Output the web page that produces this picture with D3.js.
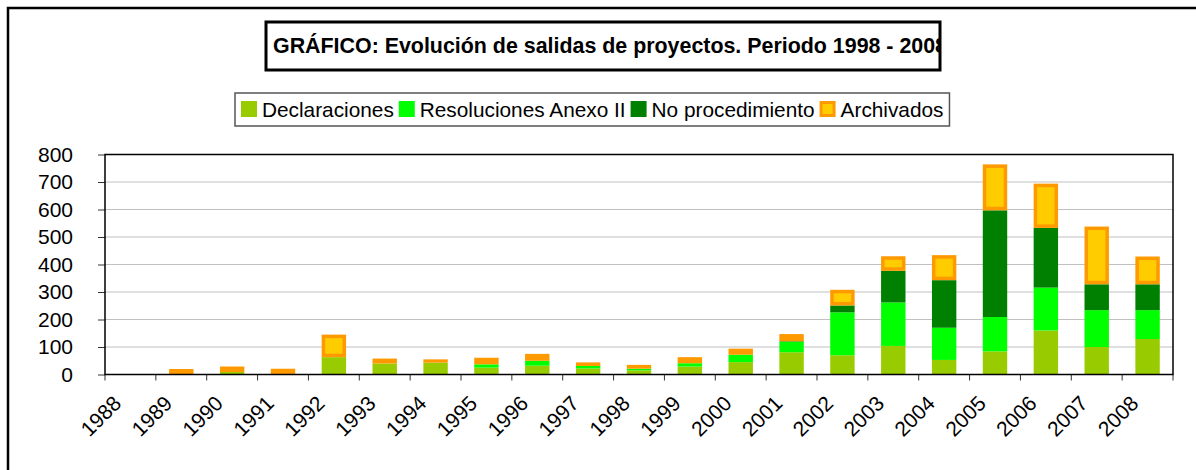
<!DOCTYPE html>
<html>
<head>
<meta charset="utf-8">
<script src="https://cdn.jsdelivr.net/npm/d3@7"></script>
<style>
  body { margin: 0; background: #fff; }
  svg { display: block; font-family: "Liberation Sans", Arial, sans-serif; }
</style>
</head>
<body>
<svg id="chart"></svg>
<script>
// Data
const years = ['1988', '1989', '1990', '1991', '1992', '1993', '1994', '1995', '1996', '1997', '1998',
  '1999', '2000', '2001', '2002', '2003', '2004', '2005', '2006', '2007', '2008'];
const declaraciones   = [0, 0, 9, 2, 63, 40, 43, 25, 32, 22, 15, 29, 45, 81, 70, 104, 53, 84, 160, 100, 129];
const resoluciones    = [0, 0, 0, 0, 0, 0, 0, 12, 18, 9, 6, 12, 27, 38, 156, 158, 117, 125, 156, 134, 105];
const noProcedimiento = [0, 0, 0, 0, 0, 0, 0, 0, 0, 0, 0, 0, 0, 2, 25, 115, 173, 388, 217, 94, 94];
const archivados      = [0, 20, 20, 19, 82, 18, 12, 24, 25, 13, 14, 22, 22, 26, 57, 53, 91, 167, 161, 210, 101];
const yTicks = [0, 100, 200, 300, 400, 500, 600, 700, 800];

const seriesNames = ['Declaraciones', 'Resoluciones Anexo II', 'No procedimiento', 'Archivados'];
const seriesColors = ['#99CC00', '#00FF00', '#008000', '#FFCC00'];
const archStroke = '#FF9900';

const titleText = 'GRÁFICO: Evolución de salidas de proyectos. Periodo 1998 - 2008';

const W = 1196, H = 470;
const plot = {left: 105, top: 154.5, right: 1173, bottom: 374.5};

const svg = d3.select('#chart').attr('width', W).attr('height', H);

// outer frame (runs off the right and bottom of the picture)
svg.append('rect')
    .attr('x', 8).attr('y', 8)
    .attr('width', W + 20).attr('height', H + 20)
    .attr('fill', 'none')
    .attr('stroke', '#000')
    .attr('stroke-width', 2.5);

// title box, text clipped to the box
svg.append('clipPath').attr('id', 'titleClip')
  .append('rect').attr('x', 266).attr('y', 22).attr('width', 674).attr('height', 48);

svg.append('text')
    .attr('clip-path', 'url(#titleClip)')
    .attr('x', 273)
    .attr('y', 53)
    .style('font-size', '21.4px')
    .style('font-weight', 'bold')
    .text(titleText);

svg.append('rect')
    .attr('x', 266).attr('y', 22)
    .attr('width', 674).attr('height', 48)
    .attr('fill', 'none')
    .attr('stroke', '#000')
    .attr('stroke-width', 3);

// scales
const table = years.map((yr, i) => ({
  year: yr,
  'Declaraciones': declaraciones[i],
  'Resoluciones Anexo II': resoluciones[i],
  'No procedimiento': noProcedimiento[i],
  'Archivados': archivados[i]
}));

const x = d3.scaleBand()
    .domain(years)
    .range([plot.left, plot.right])
    .paddingInner(0.52)
    .paddingOuter(0.26);

const y = d3.scaleLinear()
    .domain([0, 800])
    .range([plot.bottom, plot.top]);

// gridlines
svg.append('g')
  .selectAll('line')
  .data(yTicks.filter(d => d > 0 && d < 800))
  .join('line')
    .attr('x1', plot.left).attr('x2', plot.right)
    .attr('y1', d => y(d)).attr('y2', d => y(d))
    .attr('stroke', '#c0c0c0')
    .attr('stroke-width', 1);

// stacked bars
const stacked = d3.stack().keys(seriesNames)(table);

stacked.forEach((layer, li) => {
  const g = svg.append('g').attr('class', 'series');
  if (layer.key !== 'Archivados') {
    g.selectAll('rect')
      .data(layer.filter(d => d[1] > d[0]))
      .join('rect')
        .attr('x', d => x(d.data.year))
        .attr('width', x.bandwidth())
        .attr('y', d => y(d[1]))
        .attr('height', d => y(d[0]) - y(d[1]))
        .attr('fill', seriesColors[li]);
  } else {
    const sw = 3.5;
    g.selectAll('rect')
      .data(layer.filter(d => d[1] > d[0]))
      .join('rect')
        .each(function(d) {
          const h = y(d[0]) - y(d[1]);
          const r = d3.select(this);
          if (h > 2.3 * sw) {
            r.attr('x', x(d.data.year) + sw / 2)
             .attr('width', x.bandwidth() - sw)
             .attr('y', y(d[1]) + sw / 2)
             .attr('height', h - sw)
             .attr('fill', seriesColors[li])
             .attr('stroke', archStroke)
             .attr('stroke-width', sw);
          } else {
            r.attr('x', x(d.data.year))
             .attr('width', x.bandwidth())
             .attr('y', y(d[1]))
             .attr('height', h)
             .attr('fill', archStroke);
          }
        });
  }
});

// y axis
const yAxis = d3.axisLeft(y)
    .tickValues(yTicks)
    .tickSize(7)
    .tickPadding(25)
    .tickSizeOuter(0);

const yAxisG = svg.append('g')
    .attr('class', 'axis y-axis')
    .attr('transform', `translate(${plot.left},0)`)
    .call(yAxis);
yAxisG.selectAll('text').style('font-size', '21px').attr('fill', '#000');
yAxisG.selectAll('line').attr('stroke', '#333');
yAxisG.select('.domain').remove();

// x axis: labels at band centres, ticks on band boundaries
const xAxis = d3.axisBottom(x).tickSize(0).tickPadding(0);
const xAxisG = svg.append('g')
    .attr('class', 'axis x-axis')
    .attr('transform', `translate(0,${plot.bottom})`)
    .call(xAxis);
xAxisG.select('.domain').remove();
xAxisG.selectAll('text')
    .style('font-size', '21px')
    .attr('fill', '#000')
    .attr('text-anchor', 'end')
    .attr('y', 0)
    .attr('dy', '0.35em')
    .attr('transform', 'translate(-13,25) rotate(-45)');

const bounds = years.map(d => x(d) - (x.step() - x.bandwidth()) / 2).concat([plot.right]);
xAxisG.append('g')
  .selectAll('line')
  .data(bounds)
  .join('line')
    .attr('x1', d => d).attr('x2', d => d)
    .attr('y1', 0).attr('y2', 6)
    .attr('stroke', '#333');

// plot frame
svg.append('rect')
    .attr('x', plot.left).attr('y', plot.top)
    .attr('width', plot.right - plot.left)
    .attr('height', plot.bottom - plot.top)
    .attr('fill', 'none')
    .attr('stroke', '#000')
    .attr('stroke-width', 1.5);

// legend
const legend = svg.append('g').attr('class', 'legend');
const legendBox = legend.append('rect')
    .attr('fill', '#fff')
    .attr('stroke', '#555')
    .attr('stroke-width', 1.5);

let lx = 241;
seriesNames.forEach((name, i) => {
  if (name === 'Archivados') {
    legend.append('rect')
        .attr('x', lx + 1.5).attr('y', 102.5)
        .attr('width', 13).attr('height', 13)
        .attr('fill', seriesColors[i])
        .attr('stroke', archStroke)
        .attr('stroke-width', 3);
  } else {
    legend.append('rect')
        .attr('x', lx).attr('y', 101)
        .attr('width', 16).attr('height', 16)
        .attr('fill', seriesColors[i]);
  }
  const t = legend.append('text')
      .attr('x', lx + 21)
      .attr('y', 116.5)
      .style('font-size', '20.8px')
      .text(name);
  lx += 21 + t.node().getComputedTextLength() + 5;
});

legendBox
    .attr('x', 235).attr('y', 93)
    .attr('width', lx - 235 + 1)
    .attr('height', 33);
</script>
</body>
</html>
